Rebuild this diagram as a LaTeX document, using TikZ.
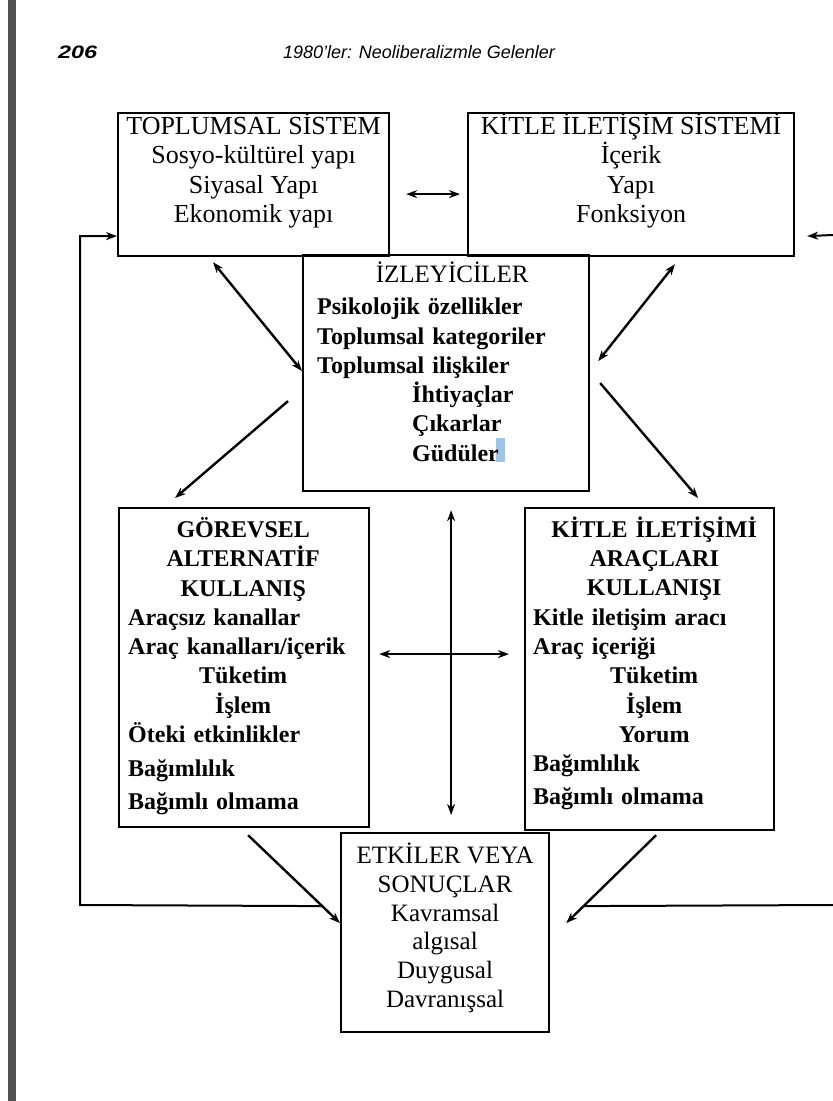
\documentclass[tikz,border=0pt]{standalone}
\usepackage{fontspec}
\usepackage{graphicx}
\setmainfont{Liberation Serif}
\newfontfamily\headfont{Liberation Sans}
\usetikzlibrary{arrows.meta,positioning}
\definecolor{pagebar}{RGB}{80,80,80}
\definecolor{selblue}{RGB}{160,196,228}
\newcommand{\centred}[1]{\makebox[\hsize]{#1}}
\setlength{\parindent}{0pt}

\begin{document}
\begin{tikzpicture}[x=1pt,y=-1pt,
	>={Stealth[length=11pt,width=8pt]},
	box/.style={draw,line width=2.2pt,inner sep=0pt,anchor=north west},
	conn/.style={line width=2.4pt},
	loopline/.style={line width=2pt},
	plain/.style={inner sep=0pt,align=center,font=\fontsize{26}{29.3}\selectfont},
	list/.style={inner sep=0pt,align=left,font=\bfseries\fontsize{24}{29.3}\selectfont},
	head/.style={inner sep=0pt,anchor=west,font=\headfont\itshape\fontsize{18}{22}\selectfont}]
	\useasboundingbox (0,0) rectangle (833,1101);
	\fill[pagebar] (8,0) rectangle (16,1101);

	\node[head] (pagenum) at (58,52) {\bfseries\scalebox{1.3}[1]{206}};
	\node[head] (runhead) at (283,52) {1980’ler: Neoliberalizmle Gelenler};

	% boxes
	\node[box,minimum width=271pt,minimum height=143pt] (toplum) at (117,112) {};
	\node[box,minimum width=326pt,minimum height=143pt] (kitle) at (467,112) {};
	\node[box,minimum width=286pt,minimum height=236pt] (izle) at (302,254) {};
	\node[box,minimum width=250pt,minimum height=319pt] (gorev) at (118,507) {};
	\node[box,minimum width=249pt,minimum height=322pt] (arac) at (524,507) {};
	\node[box,minimum width=208pt,minimum height=199pt] (etki) at (340,832) {};

	\fill[selblue] (496,438) rectangle (505,462);

	% texts
	\node[plain,below=1pt of toplum.north] (toplumtxt)
		{TOPLUMSAL SİSTEM\\Sosyo-kültürel yapı\\Siyasal Yapı\\Ekonomik yapı};
	\node[plain,below=1pt of kitle.north] (kitletxt)
		{KİTLE İLETİŞİM SİSTEMİ\\İçerik\\Yapı\\Fonksiyon};
	\node[list,text width=270pt,below right=7.6pt and 15pt of izle.north west] (izletxt)
		{\centred{\mdseries\fontsize{25}{29.3}\selectfont İZLEYİCİLER}\\[3pt]
		Psikolojik özellikler\\
		Toplumsal kategoriler\\
		Toplumsal ilişkiler\\
		\hspace*{95pt}İhtiyaçlar\\
		\hspace*{95pt}Çıkarlar\\
		\hspace*{95pt}Güdüler};
	\node[list,text width=230pt,below right=10.3pt and 10pt of gorev.north west] (gorevtxt)
		{\centred{GÖREVSEL}\\
		\centred{ALTERNATİF}\\
		\centred{KULLANIŞ}\\
		Araçsız kanallar\\
		Araç kanalları/içerik\\
		\centred{Tüketim}\\
		\centred{İşlem}\\
		Öteki etkinlikler\\[4.5pt]
		Bağımlılık\\[3.5pt]
		Bağımlı olmama};
	\node[list,text width=242pt,below right=9.6pt and 9pt of arac.north west] (aractxt)
		{\centred{KİTLE İLETİŞİMİ}\\
		\centred{ARAÇLARI}\\
		\centred{KULLANIŞI}\\
		Kitle iletişim aracı\\
		Araç içeriği\\
		\centred{Tüketim}\\
		\centred{İşlem}\\
		\centred{Yorum}\\
		Bağımlılık\\[3.5pt]
		Bağımlı olmama};
	\node[plain,font=\fontsize{25}{28.8}\selectfont,below=10.6pt of etki.north] (etkitxt)
		{ETKİLER VEYA\\SONUÇLAR\\Kavramsal\\algısal\\Duygusal\\Davranışsal};

	% connectors
	\draw[conn,<->] ([xshift=16pt,yshift=-9.5pt]toplum.east) -- ([xshift=-7pt,yshift=-9.5pt]kitle.west);
	\draw[conn,<->] ([xshift=96pt,yshift=-5pt]toplum.south west) -- ([yshift=2pt]izle.west);
	\draw[conn,<->] ([xshift=208pt,yshift=-7pt]kitle.south west) -- ([xshift=8pt,yshift=12pt]izle.east);
	\draw[conn,->] ([xshift=-14pt,yshift=-28pt]izle.west) -- ([xshift=57pt,yshift=9pt]gorev.north west);
	\draw[conn,->] ([xshift=10pt,yshift=-10pt]izle.east) -- ([xshift=48.5pt,yshift=9pt]arac.north);
	\draw[conn,<->] ([xshift=5pt,yshift=-18pt]izle.south) -- ([xshift=6pt,yshift=17pt]etki.north);
	\draw[conn,<->] ([xshift=9pt,yshift=13.5pt]gorev.east) -- ([xshift=-15pt,yshift=15pt]arac.west);
	\draw[conn,->] ([xshift=4pt,yshift=-7pt]gorev.south) -- ([yshift=9.5pt]etki.west);
	\draw[conn,->] ([xshift=6.5pt,yshift=-4pt]arac.south) -- ([xshift=16pt,yshift=9.5pt]etki.east);

	% feedback loops
	\coordinate (fbleft) at (80,905);
	\coordinate (fbright) at (833,905);
	\coordinate (fbtop) at (833,235);
	\draw[loopline,->] ([xshift=-18pt,yshift=26.5pt]etki.west) -- (fbleft) |- ([yshift=-51.5pt]toplum.west);
	\draw[loopline] (fbright) -- ([xshift=34pt,yshift=26.5pt]etki.east);
	\draw[loopline,->] (fbtop) -- ([xshift=12pt,yshift=-51.5pt]kitle.east);
\end{tikzpicture}
\end{document}
